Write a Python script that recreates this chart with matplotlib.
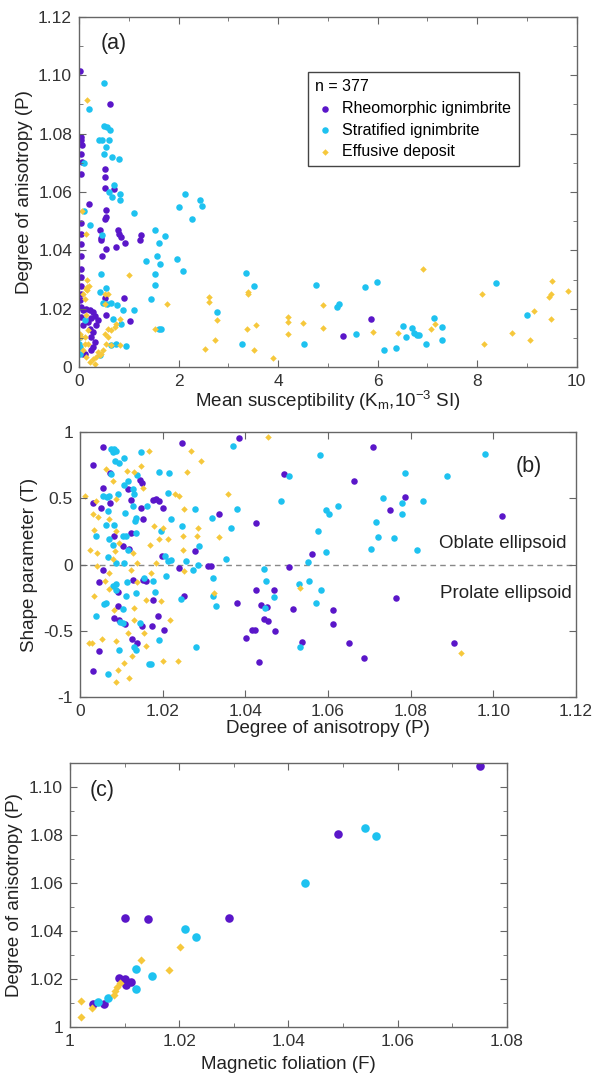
import matplotlib
matplotlib.use('Agg')
import numpy as np
import matplotlib.pyplot as plt
from matplotlib.ticker import MultipleLocator, FixedLocator

plt.rcParams['font.family'] = ['Liberation Sans', 'DejaVu Sans']
plt.rcParams['mathtext.default'] = 'regular'

PURPLE = '#5a16c9'
CYAN = '#1ec2f0'
YELLOW = '#f6c83c'

# ---- panel (a): mean susceptibility (10^-3 SI) vs degree of anisotropy P
a_rheo_k = [0.03, 0.63, 0.05, 0.05, 0.06, 0.05, 0.06, 0.04, 0.21, 0.05, 0.05, 0.05, 0.05, 0.05,
            0.05, 0.05, 0.05, 0.03, 0.52, 0.53, 0.70, 0.52, 0.55, 0.55, 0.52, 0.43, 0.44, 0.44,
            0.47, 0.55, 0.75, 0.79, 0.81, 0.84, 0.92, 1.25, 1.23, 0.90, 0.53, 0.55, 1.02,
            0.05, 0.09, 0.15, 0.22, 0.29, 0.32, 0.39, 0.25, 0.19, 0.09, 0.22, 0.29, 0.25, 0.32,
            0.29, 0.24, 0.09, 0.05, 0.35, 0.12, 5.87, 5.31]
a_rheo_p = [1.1015, 1.090, 1.0789, 1.0777, 1.0760, 1.0731, 1.0703, 1.0661, 1.056, 1.0494, 1.0457,
            1.0423, 1.038, 1.0337, 1.0309, 1.0277, 1.0251, 1.0229, 1.068, 1.0651, 1.0611, 1.0615,
            1.0537, 1.0514, 1.0507, 1.0469, 1.0443, 1.0434, 1.038, 1.0406, 1.0411, 1.0471, 1.0457,
            1.0446, 1.0425, 1.0451, 1.0434, 1.0237, 1.0238, 1.0177, 1.0157,
            1.0206, 1.0194, 1.020, 1.0197, 1.0189, 1.0174, 1.016, 1.0169, 1.0154, 1.0143, 1.0131,
            1.012, 1.0103, 1.0086, 1.0069, 1.0057, 1.0046, 1.0171, 1.0143, 1.0046, 1.0166, 1.0107]

a_strat_k = [0.50, 0.20, 0.50, 0.57, 0.63, 0.40, 0.47, 0.60, 0.55, 0.50, 0.67, 0.80, 0.70, 0.60,
             0.67, 0.83, 0.83, 1.10, 0.10, 0.10, 0.23, 0.47, 1.53, 1.60, 1.73, 1.57, 1.63, 1.35,
             1.97, 2.09, 1.53, 1.53, 1.45, 1.60, 1.65, 2.01, 2.12, 2.28, 2.43, 2.47, 3.35, 3.51,
             2.78, 3.27,
             0.44, 0.42, 0.55, 0.49, 0.57, 0.64, 0.77, 0.89, 1.11, 0.69, 0.85, 0.95, 0.75, 0.65,
             0.02, 0.00, 0.02, 0.12, 0.42, 0.02,
             4.76, 4.52, 5.23, 5.19, 5.56, 5.75, 5.98, 6.13, 6.37, 6.50, 6.56, 6.69, 6.72, 6.79,
             6.83, 6.97, 7.13, 7.30, 7.30, 8.37, 9.00]
a_strat_p = [1.0974, 1.0886, 1.0825, 1.0823, 1.0814, 1.0777, 1.0777, 1.0779, 1.0754, 1.0731, 1.072,
             1.0714, 1.0623, 1.060, 1.0583, 1.0594, 1.0574, 1.0529, 1.0534, 1.070, 1.0486, 1.0451,
             1.0471, 1.0425, 1.045, 1.038, 1.0352, 1.0363, 1.0371, 1.0328, 1.0318, 1.0282, 1.0234,
             1.0131, 1.0131, 1.0549, 1.0592, 1.0506, 1.0574, 1.0552, 1.0322, 1.0278, 1.0189, 1.008,
             1.0318, 1.0257, 1.0272, 1.0219, 1.0217, 1.0219, 1.0211, 1.0194, 1.0197, 1.0166, 1.0149,
             1.0071, 1.008, 1.0074, 1.0103, 1.008, 1.0069, 1.016, 1.004, 1.0046,
             1.0282, 1.008, 1.0217, 1.0206, 1.0112, 1.0274, 1.029, 1.0057, 1.0066, 1.0139, 1.0103,
             1.0135, 1.0118, 1.0109, 1.0109, 1.008, 1.0169, 1.0137, 1.0094, 1.0287, 1.0179]

a_eff_k = [0.17, 0.07, 0.15, 1.00, 1.77, 1.53, 2.61, 2.61, 2.77, 2.53, 2.73, 3.39, 3.39, 3.37,
           3.55, 3.51, 3.90, 4.19, 4.19, 4.20, 0.53, 0.17, 0.17, 0.17,
           0.09, 0.15, 0.20, 0.12, 0.59, 0.52, 0.05, 0.12, 0.09, 0.15, 0.22, 0.29, 0.35, 0.42,
           0.45, 0.52, 0.59, 0.65, 0.72, 0.55, 0.65, 0.82, 0.75, 0.82, 0.59, 0.19, 0.12, 0.19,
           0.39, 0.49, 0.32, 0.02, 0.15,
           4.50, 4.91, 4.91, 5.90, 6.40, 6.92, 7.07, 7.15, 8.10, 8.13, 8.69, 9.06, 9.14, 9.45,
           9.48, 9.51, 9.48, 9.83]
a_eff_p = [1.0917, 1.0535, 1.0457, 1.0314, 1.0215, 1.0131, 1.024, 1.0223, 1.0162, 1.0063, 1.0091,
           1.0257, 1.0251, 1.0131, 1.0145, 1.0057, 1.0031, 1.0171, 1.0154, 1.0114, 1.0251, 1.0274,
           1.0297, 1.0263,
           1.0251, 1.0269, 1.0277, 1.0234, 1.0251, 1.0217, 1.0103, 1.008, 1.0057, 1.0034, 1.0017,
           1.0029, 1.0034, 1.004, 1.0046, 1.0114, 1.0131, 1.0126, 1.0137, 1.008, 1.0074, 1.0074,
           1.0149, 1.0166, 1.0103, 1.008, 1.0103, 1.0126, 1.0051, 1.0057, 1.0011, 1.0114, 1.0177,
           1.0152, 1.0211, 1.0134, 1.0121, 1.0117, 1.0336, 1.013, 1.0146, 1.0251, 1.008, 1.0117,
           1.0094, 1.0192, 1.024, 1.0251, 1.0295, 1.0166, 1.0261]

# ---- panel (b): degree of anisotropy P vs shape parameter T
b_rheo_p = [1.0031, 1.0056, 1.0031, 1.0056, 1.0051, 1.0073, 1.0073, 1.0055, 1.0045, 1.0047,
            1.0031, 1.0083, 1.0105, 1.0091, 1.0091, 1.0083, 1.0095, 1.0110, 1.0123, 1.0115,
            1.0144, 1.0150, 1.0153, 1.0148, 1.0123, 1.0119, 1.0127, 1.0126, 1.0137, 1.0150,
            1.0152, 1.0160, 1.0176, 1.0184, 1.0190, 1.0200, 1.0176, 1.0188, 1.0174, 1.0202,
            1.0198, 1.0239, 1.0252, 1.0247, 1.0277, 1.0309, 1.0317, 1.0337, 1.0380, 1.0384,
            1.0426, 1.0402, 1.0416, 1.0424, 1.0426, 1.0438, 1.0434, 1.0446, 1.0454, 1.0452,
            1.0470, 1.0471, 1.0494, 1.0506, 1.0515, 1.0710, 1.0663, 1.0787, 1.0751, 1.0561,
            1.0612, 1.0611, 1.0537, 1.0651, 1.0686, 1.0765, 1.0905, 1.1020]
b_rheo_t = [0.75, 0.887, 0.461, 0.574, 0.428, 0.461, 0.688, -0.043, -0.133, -0.655,
            -0.801, 0.214, 0.139, -0.209, -0.31, -0.403, -0.421, -0.448, 0.49, 0.567,
            0.637, 0.617, 0.345, 0.428, 0.239, 0.118, -0.113, -0.559, -0.592, -0.466,
            -0.113, -0.126, 0.49, 0.496, 0.479, 0.428, -0.264, -0.39, -0.461, -0.491,
            0.063, -0.025, -0.239, 0.919, 0.10, -0.008, -0.008, 0.378, -0.29, 0.952,
            0.315, -0.554, -0.491, -0.496, -0.194, -0.302, -0.736, -0.408, -0.423, -0.32,
            -0.189, -0.499, 0.68, -0.02, -0.335, 0.889, 0.63, 0.511, 0.408, 0.076,
            -0.34, -0.446, -0.584, -0.594, -0.708, -0.249, -0.592, 0.365]

b_strat_p = [1.0074, 1.0082, 1.0086, 1.0079, 1.0085, 1.0094, 1.0107, 1.0148, 1.0075, 1.0055,
             1.0065, 1.0071, 1.0067, 1.0091, 1.0107, 1.0115, 1.0127, 1.0131, 1.0129, 1.0135,
             1.0133, 1.0139, 1.0110, 1.0163, 1.0190, 1.0215, 1.0212, 1.0220, 1.0247, 1.0277,
             1.0319, 1.0365, 1.0380, 1.0369, 1.0039, 1.0063, 1.0083, 1.0103, 1.0111, 1.0115,
             1.0071, 1.0079, 1.0067, 1.0087, 1.0107, 1.0135, 1.0196, 1.0206, 1.0212, 1.0220,
             1.0256, 1.0273, 1.0289, 1.0285, 1.0321, 1.0353, 1.0321, 1.0329, 1.0281, 1.0244,
             1.0208, 1.0182, 1.0176, 1.0156, 1.0135, 1.0113, 1.0079, 1.0087, 1.0086, 1.0063,
             1.0059, 1.0039, 1.0103, 1.0111, 1.0095, 1.0135, 1.0131, 1.0168, 1.0172, 1.0190,
             1.0067, 1.0144, 1.0097, 1.0104, 1.0448, 1.0450, 1.0446, 1.0470, 1.0486, 1.0506,
             1.0531, 1.0581, 1.0980, 1.0787, 1.0888, 1.0733, 1.0780, 1.0780, 1.0831, 1.0594,
             1.0602, 1.0625, 1.0717, 1.0576, 1.0720, 1.0760, 1.0703, 1.0815, 1.0594, 1.0551,
             1.0553, 1.0584, 1.0571, 1.0533]
b_strat_t = [0.87, 0.87, 0.86, 0.85, 0.781, 0.763, 0.806, 0.849, 0.68, 0.516,
             0.511, 0.516, 0.403, 0.534, 0.597, 0.63, 0.567, 0.529, 0.441, 0.353,
             0.327, 0.673, 0.39, 0.441, 0.698, 0.693, 0.537, 0.34, 0.29, 0.421,
             0.353, 0.277, 0.416, 0.894, 0.214, 0.295, 0.302, 0.214, 0.214, 0.113,
             0.19, 0.15, 0.058, 0.013, 0.013, 0.239, 0.252, 0.063, 0.025, 0.038,
             0.025, -0.038, 0.139, 0.0, -0.101, 0.043, -0.239, -0.31, -0.625, -0.259,
             -0.088, -0.209, -0.126, -0.101, -0.214, -0.133, -0.164, -0.15, -0.19, -0.29,
             -0.30, -0.39, -0.335, -0.24, -0.642, -0.647, -0.62, -0.748, -0.748, -0.567,
             -0.824, -0.44, -0.43, -0.44, -0.327, -0.126, -0.03, -0.244, 0.479, 0.667,
             -0.144, 0.826, 0.836, 0.693, 0.667, 0.499, 0.466, 0.385, 0.479, 0.411,
             0.378, 0.441, 0.322, 0.252, 0.209, 0.199, 0.116, 0.106, 0.096, 0.02,
             -0.126, -0.189, -0.29, -0.625]

b_eff_p = [1.0013, 1.0023, 1.0040, 1.0031, 1.0043, 1.0039, 1.0035, 1.0040, 1.0035, 1.0021,
           1.0029, 1.0053, 1.0063, 1.0079, 1.0087, 1.0071, 1.0087, 1.0094, 1.0085, 1.0079,
           1.0071, 1.0071, 1.0061, 1.0083, 1.0087, 1.0087, 1.0091, 1.0119, 1.0107, 1.0126,
           1.0115, 1.0131, 1.0131, 1.0137, 1.0123, 1.0139, 1.0129, 1.0114, 1.0131, 1.0148,
           1.0168, 1.0152, 1.0180, 1.0200, 1.0192, 1.0212, 1.0170, 1.0184, 1.0172, 1.0160,
           1.0196, 1.0218, 1.0200, 1.0236, 1.0160, 1.0156, 1.0231, 1.0239, 1.0252, 1.0248,
           1.0248, 1.0269, 1.0260, 1.0293, 1.0285, 1.0283, 1.0252, 1.0325, 1.0337, 1.0357,
           1.0456, 1.0533, 1.0921]
b_eff_t = [0.516, 0.113, 0.088, 0.378, 0.36, 0.479, 0.264, -0.013, -0.239, -0.592,
           -0.592, -0.562, 0.718, 0.63, 0.491, 0.34, 0.252, 0.164, 0.10, 0.043,
           -0.063, -0.184, -0.126, -0.34, -0.579, -0.889, -0.793, -0.856, -0.743, -0.693,
           -0.516, -0.416, -0.327, -0.133, -0.043, 0.013, 0.088, 0.705, 0.698, 0.743,
           0.856, 0.58, 0.29, 0.277, 0.189, 0.189, 0.146, 0.013, -0.063, -0.264,
           -0.277, -0.416, -0.725, -0.73, -0.617, -0.516, 0.529, 0.516, 0.416, 0.219,
           0.113, 0.856, 0.698, 0.781, 0.277, 0.214, -0.05, -0.214, 0.209, 0.529,
           0.965, -0.176, -0.668]

# ---- panel (c): magnetic foliation F vs degree of anisotropy P
c_rheo_f = [1.0751, 1.0491, 1.0101, 1.0142, 1.0291, 1.0089, 1.0100, 1.0102, 1.0111, 1.0042, 1.0062]
c_rheo_p = [1.1086, 1.0805, 1.0455, 1.0450, 1.0455, 1.0206, 1.0199, 1.0173, 1.0187, 1.0095, 1.0095]
c_strat_f = [1.0540, 1.0560, 1.0430, 1.0211, 1.0230, 1.0121, 1.0151, 1.0121, 1.0070, 1.0051]
c_strat_p = [1.0828, 1.0797, 1.0599, 1.0407, 1.0375, 1.0243, 1.0214, 1.0158, 1.0119, 1.0105]
c_eff_f = [1.0202, 1.0182, 1.0130, 1.0091, 1.0086, 1.0082, 1.0081, 1.0021, 1.0021, 1.0041]
c_eff_p = [1.0335, 1.0239, 1.0279, 1.0185, 1.0165, 1.0148, 1.0134, 1.0107, 1.0040, 1.0077]

labels = ['Rheomorphic ignimbrite', 'Stratified ignimbrite', 'Effusive deposit']

LABEL_FS = 13.5
TICK_FS = 12.5
TXT = '#222222'


def style_axes(ax):
    for s in ax.spines.values():
        s.set_color('#666666')
        s.set_linewidth(1.0)
    ax.tick_params(which='both', direction='in', top=True, right=True,
                   colors='#666666', labelcolor='#333333', labelsize=TICK_FS, pad=5)
    ax.tick_params(which='major', length=5)
    ax.tick_params(which='minor', length=3)


fig = plt.figure(figsize=(5.94, 10.75), dpi=100)

# (a)
ax1 = fig.add_axes([0.133, 0.6586, 0.838, 0.3256])
ax1.scatter(a_rheo_k, a_rheo_p, s=22, c=PURPLE, marker='o', lw=0, label=labels[0])
ax1.scatter(a_strat_k, a_strat_p, s=22, c=CYAN, marker='o', lw=0, label=labels[1])
ax1.scatter(a_eff_k, a_eff_p, s=11, c=YELLOW, marker='D', lw=0, label=labels[2])
ax1.set_xlim(0, 10)
ax1.set_ylim(1.0, 1.12)
ax1.xaxis.set_major_locator(MultipleLocator(2))
ax1.xaxis.set_minor_locator(MultipleLocator(1))
ax1.yaxis.set_major_locator(FixedLocator([1.0, 1.02, 1.04, 1.06, 1.08, 1.10, 1.12]))
ax1.yaxis.set_minor_locator(MultipleLocator(0.01))
ax1.set_yticklabels(['0', '1.02', '1.04', '1.06', '1.08', '1.10', '1.12'])
ax1.set_xlabel('Mean susceptibility (K$_m$,10$^{-3}$ SI)', fontsize=LABEL_FS, color=TXT, labelpad=0)
ax1.set_ylabel('Degree of anisotropy (P)', fontsize=LABEL_FS, color=TXT, labelpad=4)
ax1.text(0.043, 0.925, '(a)', transform=ax1.transAxes, fontsize=15.5, color=TXT,
         ha='left', va='center')
style_axes(ax1)
leg = ax1.legend(title='n = 377', loc='upper left', bbox_to_anchor=(0.46, 0.843),
                 borderaxespad=0, fancybox=False, edgecolor='#444444', framealpha=1,
                 fontsize=11.5, title_fontsize=11.5, handletextpad=0.5, handlelength=1.2,
                 markerscale=1.0, borderpad=0.45, labelspacing=0.42, alignment='left')
leg.get_frame().set_linewidth(1.0)

# (b)
ax2 = fig.add_axes([0.1347, 0.3516, 0.835, 0.2465])
ax2.axhline(0, color='#888888', lw=1.0, ls=(0, (4, 3)), zorder=0)
ax2.scatter(b_rheo_p, b_rheo_t, s=22, c=PURPLE, marker='o', lw=0)
ax2.scatter(b_strat_p, b_strat_t, s=22, c=CYAN, marker='o', lw=0)
ax2.scatter(b_eff_p, b_eff_t, s=11, c=YELLOW, marker='D', lw=0)
ax2.set_xlim(1.0, 1.12)
ax2.set_ylim(-1, 1)
ax2.xaxis.set_major_locator(FixedLocator([1.0, 1.02, 1.04, 1.06, 1.08, 1.10, 1.12]))
ax2.set_xticklabels(['0', '1.02', '1.04', '1.06', '1.08', '1.10', '1.12'])
ax2.yaxis.set_major_locator(FixedLocator([-1, -0.5, 0, 0.5, 1]))
ax2.set_yticklabels(['-1', '-0.5', '0', '0.5', '1'])
ax2.set_xlabel('Degree of anisotropy (P)', fontsize=LABEL_FS, color=TXT, labelpad=1)
ax2.set_ylabel('Shape parameter (T)', fontsize=LABEL_FS, color=TXT, labelpad=4)
ax2.text(0.878, 0.87, '(b)', transform=ax2.transAxes, fontsize=15.5, color=TXT,
         ha='left', va='center')
ax2.text(1.0868, 0.16, 'Oblate ellipsoid', fontsize=LABEL_FS, color=TXT, ha='left', va='center')
ax2.text(1.0871, -0.215, 'Prolate ellipsoid', fontsize=LABEL_FS, color=TXT, ha='left', va='center')
style_axes(ax2)

# (c)
ax3 = fig.add_axes([0.1178, 0.0447, 0.7357, 0.2456])
ax3.scatter(c_rheo_f, c_rheo_p, s=38, c=PURPLE, marker='o', lw=0)
ax3.scatter(c_strat_f, c_strat_p, s=38, c=CYAN, marker='o', lw=0)
ax3.scatter(c_eff_f, c_eff_p, s=17, c=YELLOW, marker='D', lw=0)
ax3.set_xlim(1.0, 1.08)
ax3.set_ylim(1.0, 1.11)
ax3.xaxis.set_major_locator(FixedLocator([1.0, 1.02, 1.04, 1.06, 1.08]))
ax3.xaxis.set_minor_locator(MultipleLocator(0.01))
ax3.set_xticklabels(['1', '1.02', '1.04', '1.06', '1.08'])
ax3.yaxis.set_major_locator(FixedLocator([1.0, 1.02, 1.04, 1.06, 1.08, 1.10]))
ax3.yaxis.set_minor_locator(MultipleLocator(0.01))
ax3.set_yticklabels(['1', '1.02', '1.04', '1.06', '1.08', '1.10'])
ax3.set_xlabel('Magnetic foliation (F)', fontsize=LABEL_FS, color=TXT, labelpad=5)
ax3.set_ylabel('Degree of anisotropy (P)', fontsize=LABEL_FS, color=TXT, labelpad=4)
ax3.text(0.045, 0.895, '(c)', transform=ax3.transAxes, fontsize=15.5, color=TXT,
         ha='left', va='center')
style_axes(ax3)

fig.savefig('out.png', dpi=100)
